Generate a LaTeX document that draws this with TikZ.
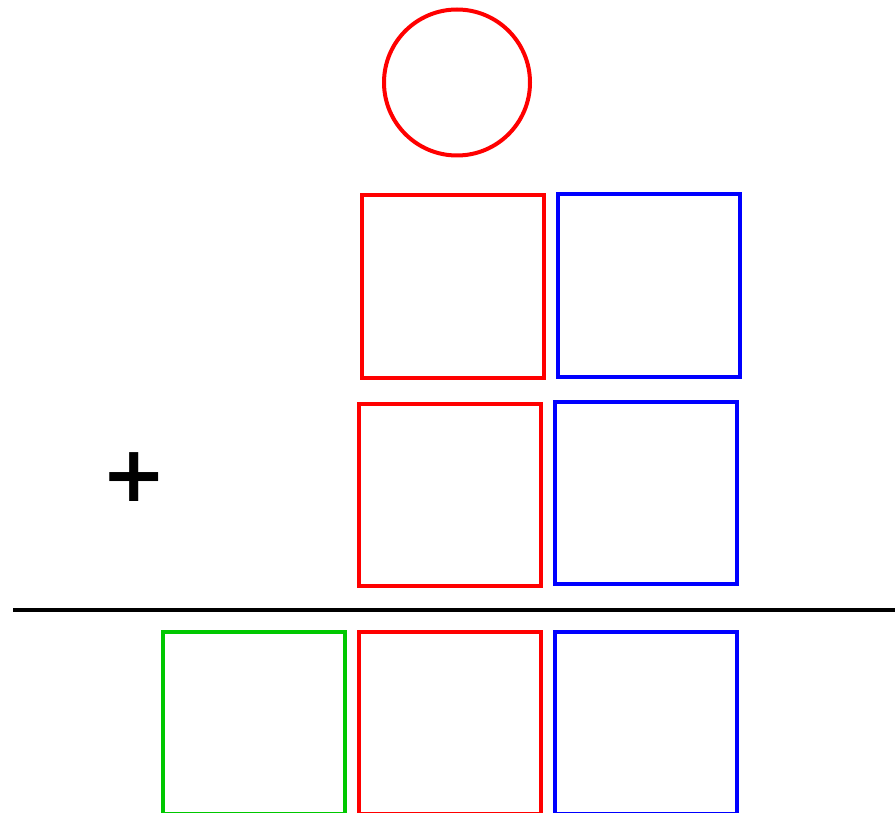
\documentclass[tikz,border=0pt]{standalone}
\usepackage{fontspec}
\newfontfamily\plusfont{DejaVu Sans}
\definecolor{cred}{RGB}{255,0,0}
\definecolor{cblue}{RGB}{0,0,255}
\definecolor{cgreen}{RGB}{0,200,0}
\begin{document}
\begin{tikzpicture}[x=1pt,y=-1pt,
  sq/.style={draw=#1, line width=4pt, minimum width=182pt, minimum height=182pt, inner sep=0pt, outer sep=0pt},
  circ/.style={draw=#1, line width=4pt, circle, minimum size=146pt, inner sep=0pt, outer sep=0pt}]
\useasboundingbox (0,0) rectangle (895,813);
\node[circ=cred] (c) at (457,82.5) {};
\node[sq=cred]  (r1) at (453,286.5) {};
\node[sq=cblue] (b1) at (648.5,285.5) {};
\node[sq=cred]  (r2) at (450,494.5) {};
\node[sq=cblue] (b2) at (645.5,493) {};
\node[sq=cgreen] (g3) at (253.5,723) {};
\node[sq=cred]  (r3) at (450,723) {};
\node[sq=cblue] (b3) at (645.5,722.5) {};
\node[inner sep=0pt] (plus) at (134.5,477) {\plusfont\bfseries\fontsize{78}{78}\selectfont +};
\coordinate (la) at (13,610);
\coordinate (lb) at (895,610);
\draw[line width=4pt, black] (la) -- (lb);
\end{tikzpicture}
\end{document}
